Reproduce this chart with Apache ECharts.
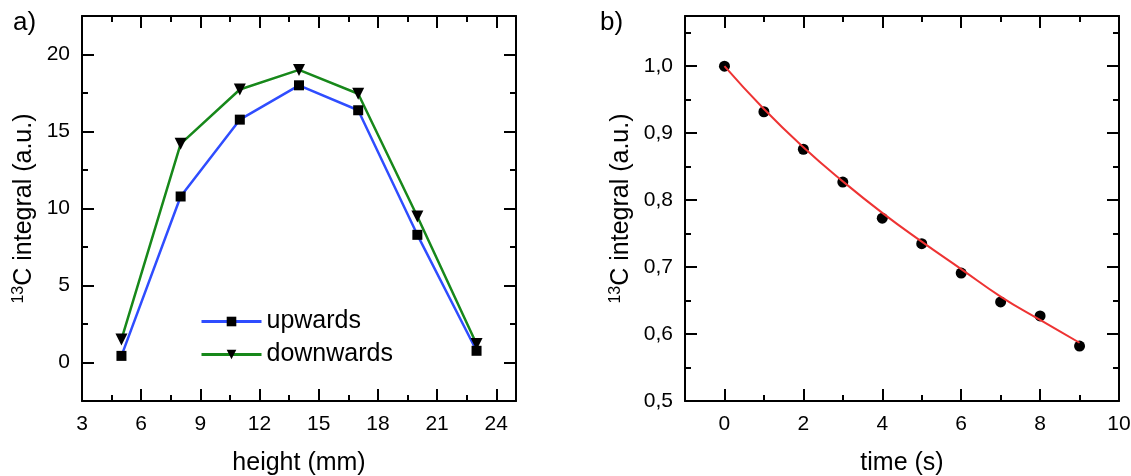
<!DOCTYPE html>
<html>
<head>
<meta charset="utf-8">
<script src="https://cdn.jsdelivr.net/npm/echarts@6/dist/echarts.min.js"></script>
<style>
  html, body { margin: 0; padding: 0; background: #fff; }
  #chart { width: 1131px; height: 476px; }
</style>
</head>
<body>
<div id="chart"></div>
<script>
// panel a) : 13C signal vs height
var heights = [5, 8, 11, 14, 17, 20, 23];
var upwards = [0.43, 10.78, 15.77, 18.0, 16.38, 8.29, 0.76];
var downwards = [1.5, 14.2, 17.73, 19.0, 17.45, 9.48, 1.2];
var heightTicks = [3, 6, 9, 12, 15, 18, 21, 24];
var signalTicks = [0, 5, 10, 15, 20];

// panel b) : decay over time
var times = [0, 1, 2, 3, 4, 5, 6, 7, 8, 9];
var integrals = [1.0, 0.932, 0.876, 0.827, 0.773, 0.735, 0.691, 0.648, 0.627, 0.582];
var fitTimes = [0, 1, 2, 3, 4, 5, 6, 7, 8, 9];
var fitValues = [1.0, 0.936, 0.879, 0.828, 0.781, 0.738, 0.697, 0.656, 0.621, 0.587];
var timeTicks = [0, 2, 4, 6, 8, 10];
var decayTicks = [0.5, 0.6, 0.7, 0.8, 0.9, 1.0];

var font = "'Liberation Sans', Arial, sans-serif";
var black = "#000";

function majorAxis(grid, pos, min, max, ticks, fmt) {
  var showLabel = pos === "bottom" || pos === "left";
  return {
    type: "value", gridIndex: grid, position: pos, min: min, max: max,
    splitLine: { show: false },
    axisLine: { show: true, onZero: false, lineStyle: { color: black, width: 2 } },
    axisTick: { show: true, inside: true, length: 12, customValues: ticks, lineStyle: { color: black, width: 2 } },
    axisLabel: {
      show: showLabel, customValues: ticks, formatter: fmt,
      margin: pos === "bottom" ? 13 : 12,
      color: black, fontSize: 21, fontFamily: font
    }
  };
}

function minorAxis(grid, pos, min, max, step) {
  return {
    type: "value", gridIndex: grid, position: pos, min: min, max: max, interval: step,
    splitLine: { show: false },
    axisLine: { show: false, onZero: false },
    axisTick: { show: true, inside: true, length: 6, lineStyle: { color: black, width: 2 } },
    axisLabel: { show: false }
  };
}

function named(axis, name, gap) {
  axis.name = name;
  axis.nameLocation = "middle";
  axis.nameGap = gap;
  axis.nameTextStyle = {
    color: black, fontSize: 25, fontFamily: font,
    rich: { sup: { fontSize: 16, fontFamily: font, color: black, padding: [0, 0, 11, 0] } }
  };
  return axis;
}

var commaFmt = function (v) { return v.toFixed(1).replace(".", ","); };
var plainFmt = function (v) { return String(v); };

var leftRect = { left: 82, top: 16, width: 434, height: 385, outerBoundsMode: "none" };
var rightRect = { left: 685, top: 16, width: 434, height: 385, outerBoundsMode: "none" };

var chart = echarts.init(document.getElementById("chart"));
var option = {
  animation: false,
  backgroundColor: "#fff",
  title: [
    { text: "a)", left: 8, top: 5, textStyle: { fontSize: 26, fontWeight: "normal", color: black, fontFamily: font } },
    { text: "b)", left: 595, top: 5, textStyle: { fontSize: 26, fontWeight: "normal", color: black, fontFamily: font } }
  ],
  grid: [leftRect, leftRect, rightRect, rightRect],
  legend: {
    orient: "vertical", left: 195, top: 304,
    itemWidth: 60, itemHeight: 12, itemGap: 8,
    lineStyle: { width: 3 },
    textStyle: { fontSize: 25, color: black, fontFamily: font },
    data: ["upwards", "downwards"]
  },
  xAxis: [
    named(majorAxis(0, "bottom", 3, 25, heightTicks, plainFmt), "height (mm)", 50),
    majorAxis(0, "top", 3, 25, heightTicks),
    minorAxis(1, "bottom", 3, 25, 1.5),
    minorAxis(1, "top", 3, 25, 1.5),
    named(majorAxis(2, "bottom", -1, 10, timeTicks, plainFmt), "time (s)", 50),
    majorAxis(2, "top", -1, 10, timeTicks),
    minorAxis(3, "bottom", -1, 10, 1),
    minorAxis(3, "top", -1, 10, 1)
  ],
  yAxis: [
    named(majorAxis(0, "left", -2.5, 22.5, signalTicks, plainFmt), "{sup|13}C integral (a.u.)", 44),
    majorAxis(0, "right", -2.5, 22.5, signalTicks),
    minorAxis(1, "left", -2.5, 22.5, 2.5),
    minorAxis(1, "right", -2.5, 22.5, 2.5),
    named(majorAxis(2, "left", 0.5, 1.075, decayTicks, commaFmt), "{sup|13}C integral (a.u.)", 50),
    majorAxis(2, "right", 0.5, 1.075, decayTicks),
    minorAxis(3, "left", 0.5, 1.075, 0.05),
    minorAxis(3, "right", 0.5, 1.075, 0.05)
  ],
  series: [
    {
      name: "upwards", type: "line", xAxisIndex: 0, yAxisIndex: 0,
      data: heights.map(function (h, i) { return [h, upwards[i]]; }),
      symbol: "rect", symbolSize: 10,
      lineStyle: { color: "#2f4dff", width: 2.5 },
      itemStyle: { color: black }
    },
    {
      name: "downwards", type: "line", xAxisIndex: 0, yAxisIndex: 0,
      data: heights.map(function (h, i) { return [h, downwards[i]]; }),
      symbol: "triangle", symbolRotate: 180, symbolSize: 12,
      lineStyle: { color: "#17881a", width: 2.5 },
      itemStyle: { color: black }
    },
    {
      name: "data", type: "scatter", xAxisIndex: 4, yAxisIndex: 4,
      data: times.map(function (t, i) { return [t, integrals[i]]; }),
      symbol: "circle", symbolSize: 11,
      itemStyle: { color: black, opacity: 1 }
    },
    {
      name: "fit", type: "line", xAxisIndex: 4, yAxisIndex: 4, z: 5,
      data: fitTimes.map(function (t, i) { return [t, fitValues[i]]; }),
      smooth: true, showSymbol: false, symbol: "none",
      lineStyle: { color: "#ee3333", width: 2 }
    }
  ]
};
chart.setOption(option);
</script>
</body>
</html>
